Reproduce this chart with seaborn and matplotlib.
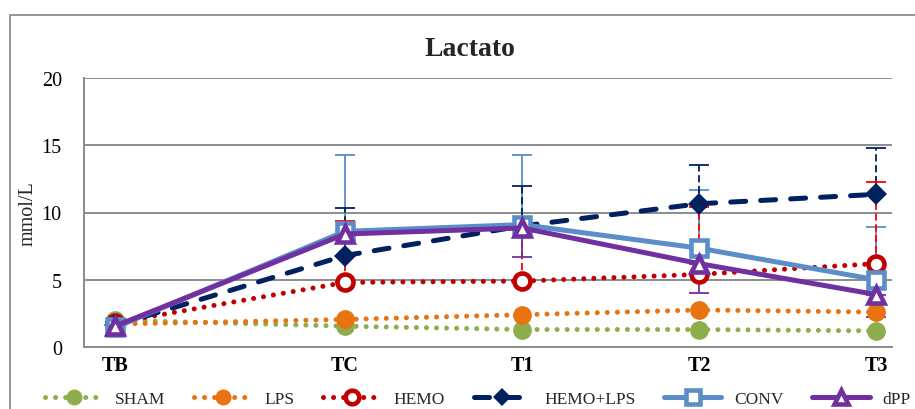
import matplotlib
matplotlib.use("Agg")
import matplotlib.pyplot as plt
import seaborn as sns
import numpy as np
from matplotlib.patches import Rectangle

# Sampling times (x position on a time-like axis) and their labels
time_labels = ["TB", "TC", "T1", "T2", "T3"]
time_pos = [0.0, 1.3, 2.3, 3.3, 4.3]

# Mean lactate (mmol/L) per group
sham = [2.0, 1.55, 1.3, 1.3, 1.2]
lps = [1.7, 2.05, 2.4, 2.75, 2.6]
hemo = [1.8, 4.8, 4.9, 5.4, 6.2]
hemo_lps = [1.6, 6.8, 9.0, 10.65, 11.35]
conv = [1.45, 8.6, 9.1, 7.35, 5.0]
dpp = [1.55, 8.4, 8.85, 6.2, 3.9]

# One-sided error bars (SD)
hemo_err_up = [0, 4.6, 3.8, 5.0, 6.1]
hemo_lps_err_up = [0, 3.5, 3.0, 2.85, 3.45]
conv_err_up = [0, 5.7, 5.2, 4.35, 3.9]
dpp_err_down = [0, 1.6, 2.15, 2.2, 1.7]

sns.set_theme(style="white")
plt.rcParams["font.family"] = ["Liberation Serif", "DejaVu Serif"]

fig = plt.figure(figsize=(9.15, 4.1), dpi=100)
ax = fig.add_axes([84 / 915, 1 - 348 / 410, (892 - 84) / 915, (348 - 79) / 410])

# Chart-area frame
fig.patches.append(Rectangle((10 / 915, -0.1), 1.0, 1 - 16 / 410 + 0.1,
                             transform=fig.transFigure, fill=False,
                             edgecolor="#8c8c8c", linewidth=1.3, clip_on=False))

DOT = (0, (0.01, 2.0))
DASH = (0, (3.0, 3.0))

series = [
    dict(label="SHAM", y=sham, color="#8DAE4B", ls=DOT, marker="o", ms=13.5,
         mfc="#8DAE4B", mew=0),
    dict(label="LPS", y=lps, color="#E8730F", ls=DOT, marker="o", ms=13.5,
         mfc="#E8730F", mew=0),
    dict(label="HEMO", y=hemo, color="#C00000", ls=DOT, marker="o", ms=11.5,
         mfc="white", mew=3.3),
    dict(label="HEMO+LPS", y=hemo_lps, color="#002060", ls=DASH, marker="D",
         ms=11, mfc="#002060", mew=0),
    dict(label="CONV", y=conv, color="#5B8DC9", ls="-", marker="s", ms=11.5,
         mfc="white", mew=3.3),
    dict(label="dPP", y=dpp, color="#7030A0", ls="-", marker="^", ms=12,
         mfc="white", mew=3.3),
]

for i, s in enumerate(series):
    sns.lineplot(x=time_pos, y=s["y"], ax=ax, label=s["label"], color=s["color"],
                 linestyle=s["ls"], linewidth=3.6, marker=s["marker"],
                 markersize=s["ms"], markerfacecolor=s["mfc"],
                 markeredgecolor=s["color"], markeredgewidth=s["mew"],
                 dash_capstyle="round", solid_capstyle="round",
                 errorbar=None, sort=False, zorder=3 + i)


def draw_err(yvals, lower, upper, color, ls):
    x = np.asarray(time_pos)
    y = np.asarray(yvals)
    lo = np.asarray(lower, dtype=float)
    up = np.asarray(upper, dtype=float)
    m = (lo + up) > 0
    eb = ax.errorbar(x[m], y[m], yerr=[lo[m], up[m]], fmt="none", ecolor=color,
                     elinewidth=1.3, capsize=7, capthick=1.3, zorder=2)
    eb[2][0].set_linestyle(ls)
    return eb


zeros = [0] * len(time_pos)
draw_err(conv, zeros, conv_err_up, "#5B8DC9", "-")
draw_err(hemo_lps, zeros, hemo_lps_err_up, "#002060", (0, (4, 2)))
draw_err(hemo, zeros, hemo_err_up, "#FF0000", (0, (4, 2)))
draw_err(dpp, dpp_err_down, zeros, "#7030A0", "-")

ax.set_xlim(-0.175, 4.39)
ax.set_ylim(0, 20)
ax.set_yticks([0, 5, 10, 15, 20])
ax.set_xticks(time_pos)
ax.set_xticklabels(time_labels, fontweight="bold")
ax.tick_params(axis="both", length=0, labelsize=14.5, colors="black")
ax.tick_params(axis="y", pad=16)
ax.tick_params(axis="x", pad=6)
ax.yaxis.grid(True, color="#8c8c8c", linewidth=1.4)
ax.xaxis.grid(False)
ax.set_axisbelow(True)
for side in ["top", "right"]:
    ax.spines[side].set_visible(False)
for side in ["left", "bottom"]:
    ax.spines[side].set_color("#8c8c8c")
    ax.spines[side].set_linewidth(1.4)

ax.set_ylabel("mmol/L", fontsize=14.5)
ax.yaxis.set_label_coords(-0.057, 0.5)
ax.set_xlabel("")

fig.text(470 / 915, 1 - 50 / 410, "Lactato", ha="center", va="center",
         fontsize=20, fontweight="bold")

handles, labels = ax.get_legend_handles_labels()
ax.get_legend().remove()
fig.legend(handles, labels, loc="center left", bbox_to_anchor=(45 / 915, 1 - 400 / 410),
           ncol=6, frameon=False, fontsize=12.5, handlelength=3.3,
           handletextpad=0.75, columnspacing=1.65, borderpad=0, borderaxespad=0,
           numpoints=1, markerscale=0.85)

fig.savefig("out.png", dpi=100)
